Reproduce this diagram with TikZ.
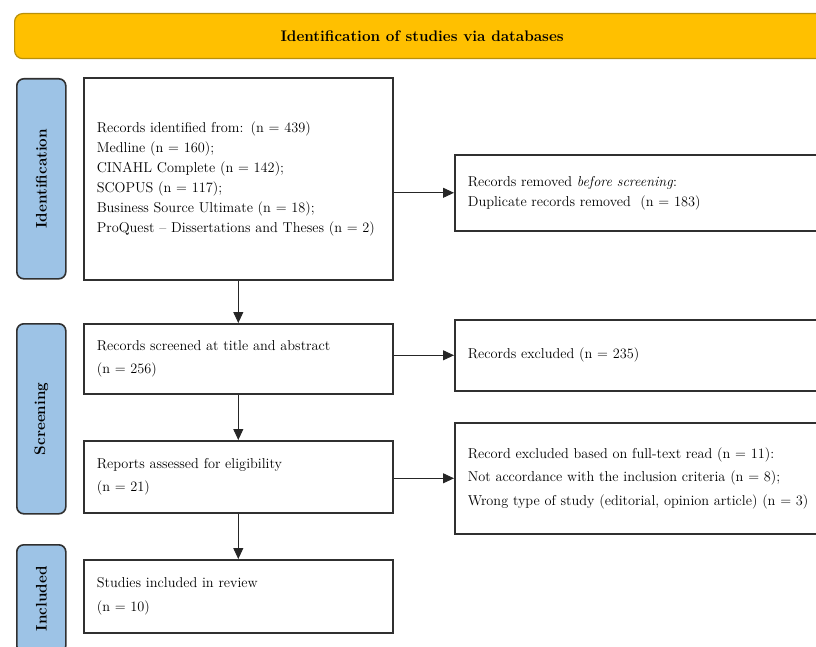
\documentclass[tikz,border=0pt]{standalone}
\usepackage{tikz}
\usetikzlibrary{positioning, calc, arrows.meta}

\definecolor{bannerfill}{HTML}{FFC000}
\definecolor{bannerline}{HTML}{B8900A}
\definecolor{sidefill}{HTML}{9DC3E6}
\definecolor{boxline}{HTML}{303030}

\tikzset{
    box/.style = {draw=boxline, line width=1.6pt, anchor=north west, align=left,
                  inner xsep=13pt, inner ysep=0pt, font=\fontsize{14.3}{20}\selectfont},
    widebox/.style = {box, font=\fontsize{14.3}{23.5}\selectfont},
    sidebox/.style = {draw=boxline, fill=sidefill, line width=1.6pt, rounded corners=7pt,
                      anchor=north west, minimum width=49pt},
    sidelabel/.style = {rotate=90, font=\fontsize{15.3}{18}\selectfont\bfseries},
    flow/.style = {draw=black!85, line width=0.9pt, -{Triangle[length=11pt,width=10pt]}}
}

\begin{document}
\begin{tikzpicture}[x=1pt, y=-1pt]
                    \useasboundingbox (0,0) rectangle (816,647);
                    \clip (0,0) rectangle (816,647);
                    % banner
                    \node[draw=bannerline, fill=bannerfill, line width=1.2pt, rounded corners=8pt,
                          anchor=north west, minimum width=815pt, minimum height=45pt,
                          font=\fontsize{15.3}{18}\selectfont\bfseries] (banner) at (14,13)
                          {Identification of studies via databases};
                    % phases
                    \node[sidebox, minimum height=200pt] (phaseA) at (16,78) {};
                    \node[sidelabel] at (phaseA.center) {Identification};
                    \node[sidebox, minimum height=190pt] (phaseB) at (16,323) {};
                    \node[sidelabel] at (phaseB.center) {Screening};
                    \node[sidebox, minimum height=108pt] (phaseC) at (16,544) {};
                    \node[sidelabel] at (phaseC.center) {Included};
                    % left column
                    \node[box, minimum width=309pt, minimum height=202pt, text width=283pt] (ident) at (83,77)
                          {Records identified from: (n = 439)\\ Medline (n = 160);\\ CINAHL Complete (n = 142);\\
                           SCOPUS (n = 117);\\ Business Source Ultimate (n = 18);\\
                           ProQuest -- Dissertations and Theses (n = 2)};
                    \node[widebox, minimum width=309pt, minimum height=70pt, text width=283pt] (screen) at (83,323)
                          {Records screened at title and abstract\\ (n = 256)};
                    \node[widebox, minimum width=309pt, minimum height=72pt, text width=283pt] (elig) at (83,440)
                          {Reports assessed for eligibility\\ (n = 21)};
                    \node[widebox, minimum width=309pt, minimum height=73pt, text width=283pt] (incl) at (83,559)
                          {Studies included in review\\ (n = 10)};
                    % right column
                    \node[box, minimum width=376pt, minimum height=76pt, text width=350pt] (dup) at (454,154)
                          {Records removed \emph{before screening}:\\ Duplicate records removed \ (n = 183)};
                    \node[widebox, minimum width=376pt, minimum height=71pt, text width=350pt] (excl) at (454,319)
                          {Records excluded (n = 235)};
                    \node[widebox, minimum width=376pt, minimum height=111pt, text width=350pt] (full) at (454,422)
                          {Record excluded based on full-text read (n = 11):\\
                           Not accordance with the inclusion criteria (n = 8);\\
                           Wrong type of study (editorial, opinion article) (n = 3)};
                    % arrows
                    \draw[flow] (ident.south) -- (screen.north);
                    \draw[flow] (screen.south) -- (elig.north);
                    \draw[flow] (elig.south) -- (incl.north);
                    \draw[flow] (dup.west -| ident.east) -- (dup.west);
                    \draw[flow] (excl.west -| screen.east) -- (excl.west);
                    \draw[flow] (full.west -| elig.east) -- (full.west);
                \end{tikzpicture}
\end{document}
